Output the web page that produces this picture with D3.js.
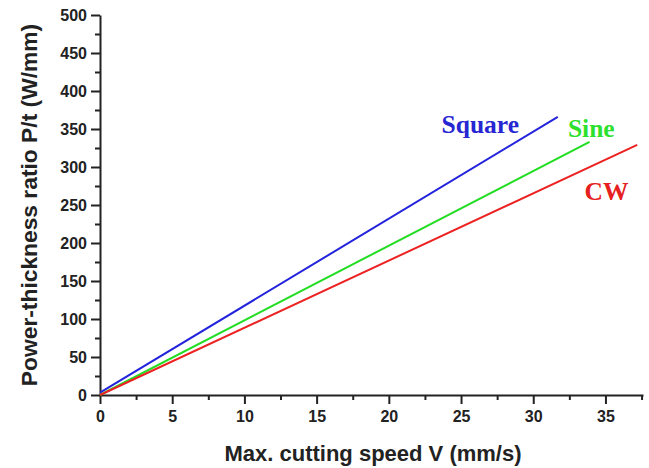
<!DOCTYPE html>
<html>
<head>
<meta charset="utf-8">
<script src="https://cdn.jsdelivr.net/npm/d3@7"></script>
<style>
  body { margin: 0; background: #fff; }
  .tick text { font-family: "Liberation Sans", Arial, sans-serif; font-weight: bold; font-size: 16px; fill: #222; }
  .axis-title { font-family: "Liberation Sans", Arial, sans-serif; font-weight: bold; font-size: 22px; fill: #222; }
  .series-label { font-family: "Liberation Serif", "Times New Roman", serif; font-weight: bold; font-size: 25.5px; }
</style>
</head>
<body>
<svg></svg>
<script>
// data: [speed V (mm/s), P/t (W/mm)]
var seriesNames = ['Square', 'Sine', 'CW'];
var squareValues = [[0, 3], [31.7, 366]];
var sineValues = [[0, 0], [33.9, 333]];
var cwValues = [[0, 0], [37.2, 329]];
var xTicks = [0, 5, 10, 15, 20, 25, 30, 35];
var yTicks = [0, 50, 100, 150, 200, 250, 300, 350, 400, 450, 500];

var canvasWidth = 649;
var canvasHeight = 468;
var margin = { top: 15, right: 6, bottom: 73, left: 100 };
var width = canvasWidth - margin.left - margin.right;
var height = canvasHeight - margin.top - margin.bottom;

var svg = d3.select('svg')
  .attr('width', canvasWidth)
  .attr('height', canvasHeight);

var graphArea = svg.append('g')
  .attr('transform', 'translate(' + margin.left + ',' + margin.top + ')');

var xScale = d3.scaleLinear().domain([0, 37.6]).range([0, width]);
var yScale = d3.scaleLinear().domain([0, 500]).range([height, 0]);

var colors = { Square: '#2323dc', Sine: '#22dd22', CW: '#ec2222' };
var textColors = { Square: '#2626d2', Sine: '#2ee02e', CW: '#e62020' };

// minor ticks
graphArea.append('g')
  .attr('class', 'x minor')
  .attr('transform', 'translate(0,' + height + ')')
  .call(d3.axisBottom(xScale).tickValues(d3.range(2.5, 38, 5)).tickSize(5).tickFormat(''))
  .call(function(g) { g.select('.domain').remove(); });
graphArea.append('g')
  .attr('class', 'y minor')
  .call(d3.axisLeft(yScale).tickValues(d3.range(25, 500, 50)).tickSize(5).tickFormat(''))
  .call(function(g) { g.select('.domain').remove(); });

// X axis
graphArea.append('g')
  .attr('class', 'x axis')
  .attr('transform', 'translate(0,' + height + ')')
  .call(d3.axisBottom(xScale).tickValues(xTicks).tickSize(9).tickSizeOuter(0).tickPadding(7));

// Y axis
graphArea.append('g')
  .attr('class', 'y axis')
  .call(d3.axisLeft(yScale).tickValues(yTicks).tickSize(9).tickSizeOuter(0).tickPadding(4));

svg.selectAll('.domain').attr('stroke', '#222').attr('stroke-width', 2);
svg.selectAll('.tick line').attr('stroke', '#222').attr('stroke-width', 2);

// lines
var line = d3.line()
  .x(function(d) { return xScale(d[0]); })
  .y(function(d) { return yScale(d[1]); });

var allSeries = [squareValues, sineValues, cwValues];
allSeries.forEach(function(values, i) {
  graphArea.append('path')
    .datum(values)
    .attr('fill', 'none')
    .attr('stroke', colors[seriesNames[i]])
    .attr('stroke-width', 2)
    .attr('d', line);
});

// series labels
var labelPos = [[23.65, 345], [32.4, 339], [33.55, 257]];
seriesNames.forEach(function(name, i) {
  graphArea.append('text')
    .attr('class', 'series-label')
    .attr('x', xScale(labelPos[i][0]))
    .attr('y', yScale(labelPos[i][1]))
    .attr('fill', textColors[name])
    .text(name);
});

// axis titles
svg.append('text')
  .attr('class', 'axis-title')
  .attr('x', 373)
  .attr('y', 461)
  .style('text-anchor', 'middle')
  .text('Max. cutting speed V (mm/s)');

svg.append('text')
  .attr('class', 'axis-title')
  .attr('transform', 'translate(37,205) rotate(-90)')
  .style('text-anchor', 'middle')
  .style('font-size', '22.8px')
  .text('Power-thickness ratio P/t (W/mm)');
</script>
</body>
</html>
